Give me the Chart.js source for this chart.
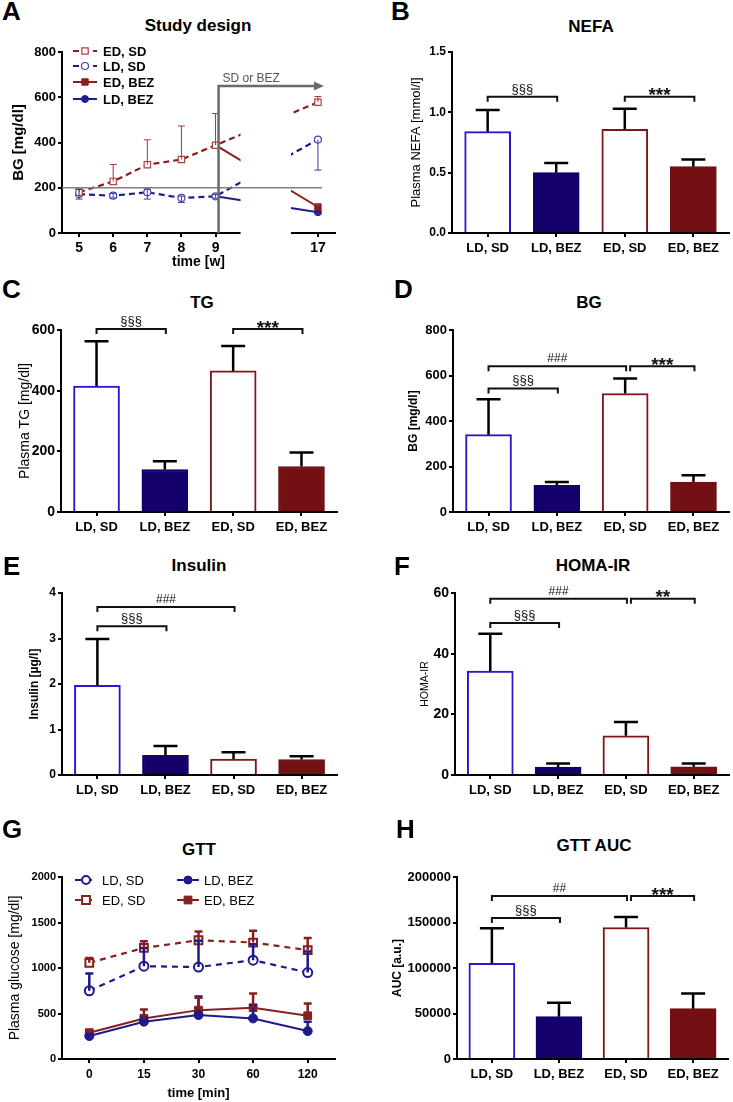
<!DOCTYPE html>
<html>
<head>
<meta charset="utf-8">
<script src="https://cdn.jsdelivr.net/npm/chart.js@4.4.1/dist/chart.umd.min.js"></script>
<style>
  body { margin: 0; background: #fff; }
  #fig { position: relative; width: 733px; height: 1102px; overflow: hidden; font-family: "Liberation Sans", Arial, sans-serif; }
  #fig canvas { position: absolute; }
  .lbl { position: absolute; font-weight: bold; line-height: 1.15; white-space: nowrap; color: #000; }
</style>
</head>
<body>
<div id="fig"></div>
<script>
// ---- data ----
const groups = ['LD, SD', 'LD, BEZ', 'ED, SD', 'ED, BEZ'];

// A: study design, blood glucose by week
const weeks = ['5', '6', '7', '8', '9', '', '', '17'];
const bgEdSd = [180, 228, 302, 325, 388, null, null, 578];
const bgEdSdErr = [20, 75, 110, 148, 140, null, null, 25];
const bgLdSd = [172, 165, 180, 155, 162, null, null, 413];
const bgLdSdErrUp = [20, 10, 15, 8, 8, null, null, 0];
const bgLdSdErrDown = [22, 10, 30, 20, 8, null, null, 135];
const bgEdBez = [null, null, null, null, 388, null, null, 115];
const bgEdBezErr = [null, null, null, null, 0, null, null, 10];
const bgLdBez = [null, null, null, null, 162, null, null, 92];
const bgLdBezErr = [null, null, null, null, 0, null, null, 8];
const refLevel = 200;
const arrowLevel = 650;

// B-F, H: group means and SEM
const nefa = [0.84, 0.50, 0.86, 0.55];
const nefaErr = [0.18, 0.08, 0.17, 0.06];
const tg = [415, 140, 465, 150];
const tgErr = [148, 27, 82, 46];
const bg = [340, 117, 521, 132];
const bgErr = [156, 15, 66, 29];
const insulin = [1.97, 0.43, 0.35, 0.34];
const insulinErr = [1.02, 0.21, 0.15, 0.07];
const homa = [34.3, 2.6, 12.9, 2.7];
const homaErr = [12.3, 1.2, 4.6, 1.1];
const auc = [105000, 46500, 144500, 55300];
const aucErr = [38700, 15300, 11600, 16700];

// significance brackets: [from, to, level, mark]
const nefaSig = [[0, 1, 1.13, '§§§'], [2, 3, 1.13, '***']];
const tgSig = [[0, 1, 603, '§§§'], [2, 3, 603, '***']];
const bgSig = [[0, 2, 641, '###'], [2, 3, 641, '***'], [0, 1, 543, '§§§']];
const insulinSig = [[0, 2, 3.69, '###'], [0, 1, 3.27, '§§§']];
const homaSig = [[0, 2, 58.1, '###'], [2, 3, 58.1, '**'], [0, 1, 50.1, '§§§']];
const aucSig = [[0, 2, 179000, '##'], [2, 3, 179000, '***'], [0, 1, 155000, '§§§']];

// G: GTT
const gttTimes = ['0', '15', '30', '60', '120'];
const gttLdSd = [750, 1020, 1010, 1086, 950];
const gttLdSdErr = [190, 200, 290, 174, 230];
const gttEdSd = [1057, 1221, 1305, 1280, 1196];
const gttEdSdErr = [53, 74, 95, 130, 134];
const gttLdBez = [252, 410, 483, 446, 307];
const gttLdBezErr = [23, 45, 205, 146, 103];
const gttEdBez = [289, 446, 537, 563, 475];
const gttEdBezErr = [16, 99, 136, 157, 136];

// ---- styling ----
Chart.defaults.font.family = '"Liberation Sans", Arial, sans-serif';
Chart.defaults.color = '#000';

const FONT = '"Liberation Sans", Arial, sans-serif';
const blueOpen = '#2b14d2';
const navy = '#15006b';
const redOpen = '#7e1619';
const darkRed = '#721013';
const lineRed = '#8a1c1c';
const lineBlue = '#1f1d8e';

const fig = document.getElementById('fig');

function addText(txt, x, capTop, size, center) {
  const d = document.createElement('div');
  d.className = 'lbl';
  d.textContent = txt;
  d.style.fontSize = size + 'px';
  d.style.top = (capTop - 0.205 * size) + 'px';
  d.style.left = x + 'px';
  if (center) d.style.transform = 'translateX(-50%)';
  fig.appendChild(d);
}

function makeCanvas(box) {
  const cv = document.createElement('canvas');
  cv.width = box.w;
  cv.height = box.h;
  cv.style.left = box.x + 'px';
  cv.style.top = box.y + 'px';
  fig.appendChild(cv);
  return cv;
}

function drawMarker(ctx, ds, x, y) {
  const r = ds.legendR;
  ctx.save();
  ctx.fillStyle = ds.pointBackgroundColor;
  ctx.strokeStyle = ds.pointBorderColor;
  ctx.lineWidth = ds.pointBorderWidth;
  ctx.setLineDash([]);
  ctx.beginPath();
  if (ds.pointStyle === 'rect') {
    const s = r * Math.SQRT1_2;
    ctx.rect(x - s, y - s, 2 * s, 2 * s);
  } else {
    ctx.arc(x, y, r, 0, Math.PI * 2);
  }
  ctx.fill();
  ctx.stroke();
  ctx.restore();
}

const errorBars = {
  id: 'errbars',
  afterDatasetsDraw(chart) {
    const ctx = chart.ctx;
    const ys = chart.scales.y;
    chart.data.datasets.forEach((ds, di) => {
      if (!ds.errUp && !ds.errDown) return;
      const meta = chart.getDatasetMeta(di);
      const st = ds.errStyle || {};
      const cap = st.cap || 24;
      ctx.save();
      ctx.strokeStyle = st.color || '#000';
      ctx.lineWidth = st.width || 2.5;
      meta.data.forEach((el, i) => {
        const raw = ds.data[i];
        const val = raw !== null && typeof raw === 'object' ? raw.y : raw;
        if (val == null) return;
        const x = el.x;
        [[ds.errUp, 1], [ds.errDown, -1]].forEach(([arr, sgn]) => {
          if (!arr || !arr[i]) return;
          const y0 = ys.getPixelForValue(val);
          const y1 = ys.getPixelForValue(val + sgn * arr[i]);
          ctx.beginPath();
          ctx.moveTo(x, y0);
          ctx.lineTo(x, y1);
          ctx.moveTo(x - cap / 2, y1);
          ctx.lineTo(x + cap / 2, y1);
          ctx.stroke();
        });
      });
      ctx.restore();
    });
  }
};

const brackets = {
  id: 'brackets',
  afterDatasetsDraw(chart, args, opts) {
    const items = opts.items || [];
    const ctx = chart.ctx;
    const xs = chart.scales.x, ys = chart.scales.y;
    ctx.save();
    ctx.strokeStyle = '#111';
    ctx.fillStyle = '#111';
    ctx.lineWidth = 2;
    ctx.textAlign = 'center';
    items.forEach(it => {
      const [a, b, level, mark] = it;
      let x1 = xs.getPixelForValue(a);
      const x2 = xs.getPixelForValue(b) + 1;
      if (items.some(o => o !== it && o[1] === a && o[2] === level)) x1 += 5;
      const y = ys.getPixelForValue(level);
      ctx.beginPath();
      ctx.moveTo(x1, y + 5);
      ctx.lineTo(x1, y);
      ctx.lineTo(x2, y);
      ctx.lineTo(x2, y + 5);
      ctx.stroke();
      const star = mark[0] === '*';
      const hash = mark[0] === '#';
      ctx.font = star ? 'bold 19px ' + FONT : (hash ? '12px ' + FONT : '13px ' + FONT);
      ctx.fillText(mark, (x1 + x2) / 2, star ? y + 4.5 : y - 4);
    });
    ctx.restore();
  }
};

const inLegend = {
  id: 'inlegend',
  afterDraw(chart, args, opts) {
    if (!opts.items) return;
    const ctx = chart.ctx;
    opts.items.forEach(it => {
      const ds = chart.data.datasets[it.ds];
      ctx.save();
      ctx.strokeStyle = ds.borderColor;
      ctx.lineWidth = ds.borderWidth;
      ctx.setLineDash(ds.borderDash || []);
      ctx.beginPath();
      ctx.moveTo(it.x, it.y);
      ctx.lineTo(it.x + opts.len, it.y);
      ctx.stroke();
      drawMarker(ctx, ds, it.x + opts.len / 2, it.y);
      ctx.fillStyle = '#000';
      ctx.font = opts.font;
      ctx.textBaseline = 'middle';
      ctx.textAlign = 'left';
      ctx.fillText(ds.label, it.x + opts.textDx, it.y + 1);
      ctx.restore();
    });
  }
};

// break in the week axis, reference line and treatment arrow (panel A)
const studyDesign = {
  id: 'studyDesign',
  afterDatasetsDraw(chart) {
    const ctx = chart.ctx;
    const xs = chart.scales.x, ys = chart.scales.y;
    const area = chart.chartArea;
    const x9 = xs.getPixelForValue(4);
    const x17 = xs.getPixelForValue(7);
    ctx.save();
    ctx.fillStyle = '#fff';
    ctx.fillRect(x9 + 25, area.top - 4, (x17 - 27) - (x9 + 25), area.bottom - area.top + 12);
    // reference line
    ctx.strokeStyle = '#808080';
    ctx.lineWidth = 1.5;
    const yRef = ys.getPixelForValue(refLevel);
    ctx.beginPath();
    ctx.moveTo(area.left, yRef);
    ctx.lineTo(x17 + 4, yRef);
    ctx.stroke();
    // treatment arrow
    const yArr = ys.getPixelForValue(arrowLevel);
    ctx.strokeStyle = '#6a6a6a';
    ctx.lineWidth = 2.5;
    ctx.beginPath();
    ctx.moveTo(x9 + 3, area.bottom);
    ctx.lineTo(x9 + 3, yArr);
    ctx.lineTo(x17 - 3, yArr);
    ctx.stroke();
    ctx.fillStyle = '#6a6a6a';
    ctx.beginPath();
    ctx.moveTo(x17 + 6, yArr);
    ctx.lineTo(x17 - 4, yArr - 4.5);
    ctx.lineTo(x17 - 4, yArr + 4.5);
    ctx.closePath();
    ctx.fill();
    ctx.fillStyle = '#555';
    ctx.font = '12px ' + FONT;
    ctx.textAlign = 'left';
    ctx.fillText('SD or BEZ', x9 + 7, yArr - 4);
    ctx.restore();
  }
};

function yTitle(text, x, box, size, bold) {
  return {
    display: true, text, color: '#000',
    font: { size, weight: bold ? 'bold' : 'normal', lineHeight: 1.2 },
    padding: { top: x - box.x - size * 0.6, bottom: 0 }
  };
}

function axisBase() {
  return {
    border: { display: true, color: '#000', width: 2 },
    grid: { display: true, offset: false, drawOnChartArea: false, drawTicks: true, tickLength: 4, color: '#000', lineWidth: 2 }
  };
}

function baseOptions(box, area) {
  return {
    responsive: false,
    animation: false,
    events: [],
    layout: { padding: { left: 0, top: area.t - box.y, right: box.x + box.w - area.r, bottom: 0 } },
    plugins: { legend: { display: false }, tooltip: { enabled: false } }
  };
}

const plainNum = v => String(v);

function barPanel(box, area, means, errs, sig, o) {
  const yW = area.l - box.x;
  const xH = box.y + box.h - area.b;
  const opts = baseOptions(box, area);
  opts.plugins.brackets = { items: sig };
  opts.scales = {
    x: Object.assign(axisBase(), {
      type: 'linear', min: -0.52, max: 3.52, offset: false,
      afterFit: s => { s.height = xH; },
      ticks: {
        stepSize: 1, includeBounds: false, autoSkip: false, maxRotation: 0, padding: 4,
        color: '#000', font: { size: o.xFont || 13, weight: 'bold' },
        callback: v => groups[v] ?? ''
      }
    }),
    y: Object.assign(axisBase(), {
      min: 0, max: o.max,
      afterFit: s => { s.width = yW; },
      ticks: {
        stepSize: o.step, padding: 2, color: '#000',
        font: { size: o.yFont, weight: 'bold' },
        callback: o.fmt || plainNum
      },
      title: yTitle(o.title, o.titleX, box, o.titleSize, o.titleBold)
    })
  };
  return new Chart(makeCanvas(box), {
    type: 'bar',
    data: {
      datasets: [{
        data: means.map((v, i) => ({ x: i, y: v })),
        errUp: errs,
        errStyle: { color: '#000', width: 2.5, cap: 24 },
        backgroundColor: ['#fff', navy, '#fff', darkRed],
        borderColor: [blueOpen, navy, redOpen, darkRed],
        borderWidth: 2,
        barThickness: 46
      }]
    },
    options: opts,
    plugins: [errorBars, brackets]
  });
}

// ---- panel A ----
(function () {
  const box = { x: 0, y: 36, w: 366, h: 236 };
  const area = { l: 62, t: 52, r: 335, b: 233 };
  const opts = baseOptions(box, area);
  const lastOnly = ctx => (ctx.dataIndex === 7 ? 4.5 : 0);
  const lastOnlyC = ctx => (ctx.dataIndex === 7 ? 3.5 : 0);
  opts.plugins.inlegend = {
    len: 24, textDx: 30, font: 'bold 13px ' + FONT,
    items: [{ ds: 0, x: 73, y: 15 }, { ds: 1, x: 73, y: 30 }, { ds: 2, x: 73, y: 46 }, { ds: 3, x: 73, y: 63 }]
  };
  opts.scales = {
    x: Object.assign(axisBase(), {
      type: 'category', offset: true,
      afterFit: s => { s.height = box.y + box.h - area.b; },
      ticks: { autoSkip: false, maxRotation: 0, padding: 3, color: '#000', font: { size: 14, weight: 'bold' } },
      title: { display: true, text: 'time [w]', color: '#000', font: { size: 14, weight: 'bold', lineHeight: 1.2 }, padding: { top: 0, bottom: 1 } }
    }),
    y: Object.assign(axisBase(), {
      min: 0, max: 800,
      afterFit: s => { s.width = area.l - box.x; },
      ticks: { stepSize: 200, padding: 2, color: '#000', font: { size: 13, weight: 'bold' }, callback: plainNum },
      title: yTitle('BG [mg/dl]', 19, box, 15, true)
    })
  };
  new Chart(makeCanvas(box), {
    type: 'line',
    data: {
      labels: weeks,
      datasets: [
        {
          label: 'ED, SD', data: bgEdSd, errUp: bgEdSdErr, errStyle: { color: '#a53636', width: 1, cap: 7 },
          borderColor: lineRed, borderWidth: 2.2, borderDash: [6, 4], spanGaps: true,
          pointStyle: 'rect', pointRadius: 4.5, legendR: 4.5, pointBackgroundColor: '#fff', pointBorderColor: '#b04444', pointBorderWidth: 1.2
        },
        {
          label: 'LD, SD', data: bgLdSd, errUp: bgLdSdErrUp, errDown: bgLdSdErrDown, errStyle: { color: '#3a3aa8', width: 1, cap: 7 },
          borderColor: lineBlue, borderWidth: 2.2, borderDash: [6, 4], spanGaps: true,
          pointStyle: 'circle', pointRadius: 3.5, legendR: 3.5, pointBackgroundColor: '#fff', pointBorderColor: '#4444b0', pointBorderWidth: 1.2
        },
        {
          label: 'ED, BEZ', data: bgEdBez, errUp: bgEdBezErr, errStyle: { color: '#a53636', width: 1, cap: 7 },
          borderColor: lineRed, borderWidth: 2, spanGaps: true,
          pointStyle: 'rect', pointRadius: lastOnly, legendR: 4.5, pointBackgroundColor: lineRed, pointBorderColor: lineRed, pointBorderWidth: 1
        },
        {
          label: 'LD, BEZ', data: bgLdBez, errDown: bgLdBezErr, errStyle: { color: '#3a3aa8', width: 1, cap: 7 },
          borderColor: lineBlue, borderWidth: 2, spanGaps: true,
          pointStyle: 'circle', pointRadius: lastOnlyC, legendR: 3.5, pointBackgroundColor: lineBlue, pointBorderColor: lineBlue, pointBorderWidth: 1
        }
      ]
    },
    options: opts,
    plugins: [errorBars, studyDesign, inLegend]
  });
})();

// ---- bar panels ----
barPanel({ x: 366, y: 36, w: 367, h: 226 }, { l: 452, t: 52, r: 729, b: 233 }, nefa, nefaErr, nefaSig,
  { max: 1.5, step: 0.5, yFont: 12, fmt: v => v.toFixed(1), title: 'Plasma NEFA [mmol/l]', titleX: 416, titleSize: 13, titleBold: false });
barPanel({ x: 0, y: 312, w: 366, h: 226 }, { l: 61, t: 330, r: 337, b: 512 }, tg, tgErr, tgSig,
  { max: 600, step: 200, yFont: 14, title: 'Plasma TG [mg/dl]', titleX: 25, titleSize: 14, titleBold: false });
barPanel({ x: 366, y: 312, w: 367, h: 226 }, { l: 453, t: 330, r: 729, b: 512 }, bg, bgErr, bgSig,
  { max: 800, step: 200, yFont: 13, title: 'BG [mg/dl]', titleX: 414, titleSize: 12, titleBold: true });
barPanel({ x: 0, y: 578, w: 366, h: 232 }, { l: 62, t: 593, r: 337, b: 775 }, insulin, insulinErr, insulinSig,
  { max: 4, step: 1, yFont: 12, title: 'Insulin [µg/l]', titleX: 35, titleSize: 12, titleBold: true });
barPanel({ x: 366, y: 578, w: 367, h: 232 }, { l: 455, t: 593, r: 729, b: 775 }, homa, homaErr, homaSig,
  { max: 60, step: 20, yFont: 14, title: 'HOMA-IR', titleX: 425, titleSize: 10.5, titleBold: false });
barPanel({ x: 366, y: 862, w: 367, h: 240 }, { l: 457, t: 877, r: 728, b: 1059 }, auc, aucErr, aucSig,
  { max: 200000, step: 50000, yFont: 13, title: 'AUC [a.u.]', titleX: 398, titleSize: 12, titleBold: true });

// ---- panel G ----
(function () {
  const box = { x: 0, y: 862, w: 366, h: 240 };
  const area = { l: 62, t: 877, r: 335, b: 1059 };
  const opts = baseOptions(box, area);
  opts.plugins.inlegend = {
    len: 22, textDx: 27, font: '13px ' + FONT,
    items: [{ ds: 0, x: 75, y: 18 }, { ds: 1, x: 75, y: 38 }, { ds: 2, x: 177, y: 18 }, { ds: 3, x: 177, y: 38 }]
  };
  opts.scales = {
    x: Object.assign(axisBase(), {
      type: 'category', offset: true,
      afterFit: s => { s.height = box.y + box.h - area.b; },
      ticks: { autoSkip: false, maxRotation: 0, padding: 4, color: '#000', font: { size: 12, weight: 'bold' } },
      title: { display: true, text: 'time [min]', color: '#000', font: { size: 13, weight: 'bold', lineHeight: 1.2 }, padding: { top: 0, bottom: 1 } }
    }),
    y: Object.assign(axisBase(), {
      min: 0, max: 2000,
      afterFit: s => { s.width = area.l - box.x; },
      ticks: { stepSize: 500, padding: 2, color: '#000', font: { size: 11, weight: 'bold' }, callback: plainNum },
      title: yTitle('Plasma glucose [mg/dl]', 15, box, 14, false)
    })
  };
  const gttRed = '#862020', gttBlue = '#1d1a8c';
  new Chart(makeCanvas(box), {
    type: 'line',
    data: {
      labels: gttTimes,
      datasets: [
        {
          label: 'LD, SD', data: gttLdSd, errUp: gttLdSdErr, errStyle: { color: gttBlue, width: 2.5, cap: 8 },
          borderColor: gttBlue, borderWidth: 2.2, borderDash: [6, 5],
          pointStyle: 'circle', pointRadius: 4.5, legendR: 4, pointBackgroundColor: '#fff', pointBorderColor: gttBlue, pointBorderWidth: 2
        },
        {
          label: 'ED, SD', data: gttEdSd, errUp: gttEdSdErr, errStyle: { color: gttRed, width: 2.5, cap: 8 },
          borderColor: gttRed, borderWidth: 2.2, borderDash: [6, 5],
          pointStyle: 'rect', pointRadius: 5.5, legendR: 5.5, pointBackgroundColor: '#fff', pointBorderColor: gttRed, pointBorderWidth: 2
        },
        {
          label: 'LD, BEZ', data: gttLdBez, errUp: gttLdBezErr, errStyle: { color: gttBlue, width: 2.5, cap: 8 },
          borderColor: gttBlue, borderWidth: 2,
          pointStyle: 'circle', pointRadius: 4.5, legendR: 4, pointBackgroundColor: gttBlue, pointBorderColor: gttBlue, pointBorderWidth: 1
        },
        {
          label: 'ED, BEZ', data: gttEdBez, errUp: gttEdBezErr, errStyle: { color: gttRed, width: 2.5, cap: 8 },
          borderColor: gttRed, borderWidth: 2,
          pointStyle: 'rect', pointRadius: 5.5, legendR: 5.5, pointBackgroundColor: gttRed, pointBorderColor: gttRed, pointBorderWidth: 1
        }
      ]
    },
    options: opts,
    plugins: [errorBars, inLegend]
  });
})();

// ---- panel letters and titles ----
addText('A', 2, 2, 26, false);
addText('B', 391, 2, 26, false);
addText('C', 2, 280, 26, false);
addText('D', 394, 280, 26, false);
addText('E', 3, 557, 26, false);
addText('F', 394, 557, 26, false);
addText('G', 2, 820, 26, false);
addText('H', 396, 820, 26, false);

addText('Study design', 198, 19, 17, true);
addText('NEFA', 591, 20, 17, true);
addText('TG', 202, 296, 17, true);
addText('BG', 589, 296, 17, true);
addText('Insulin', 199, 559, 17, true);
addText('HOMA-IR', 593, 559, 17, true);
addText('GTT', 199, 843, 17, true);
addText('GTT AUC', 594, 839, 17, true);
</script>
</body>
</html>
